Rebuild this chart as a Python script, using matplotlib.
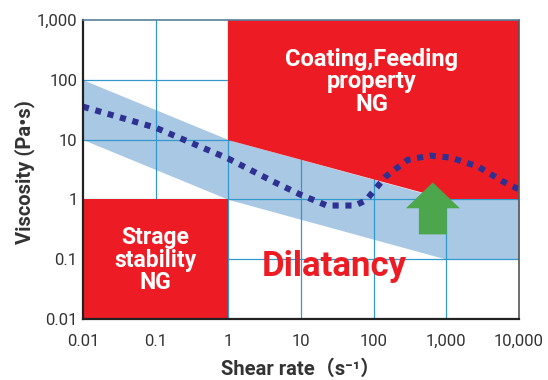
import matplotlib

matplotlib.use("Agg")
import matplotlib.pyplot as plt  # noqa: E402

FONTS = ["Roboto", "Noto Sans CJK JP", "DejaVu Sans"]
plt.rcParams["font.family"] = FONTS

# axis ranges / ticks
x_ticks = [0.01, 0.1, 1, 10, 100, 1000, 10000]
x_labels = ["0.01", "0.1", "1", "10", "100", "1,000", "10,000"]
y_ticks = [0.01, 0.1, 1, 10, 100, 1000]
y_labels = ["0.01", "0.1", "1", "10", "100", "1,000"]

# acceptable viscosity band (upper / lower edge)
band_x = [0.01, 1, 1000, 10000]
band_upper = [100, 10, 1, 1]
band_lower = [10, 1, 0.1, 0.1]

# measured curve (dilatant behaviour)
curve_x = [0.01, 0.1, 1, 4.1, 9.7, 22.7, 55, 78, 147, 295, 593, 1150, 2710, 5980, 10000]
curve_y = [35.5, 15.8, 4.8, 2.0, 1.21, 0.79, 0.79, 0.96, 2.42, 4.6, 5.4, 5.0, 3.55, 2.0, 1.47]

# NG zones
coating_x = [1, 1, 10000, 10000, 1000]
coating_y = [10, 1000, 1000, 1, 1]
storage_x = [0.01, 0.01, 1, 1]
storage_y = [0.01, 1, 1, 0.01]

# green arrow outline
arrow_x = [419, 419, 277, 652, 1535, 1016, 1016]
arrow_y = [0.26, 0.71, 0.71, 1.92, 0.71, 0.71, 0.26]

RED = "#ed1c24"
BAND = "#a9c8e4"
GRID = "#3399cc"
DOTS = "#2e3192"
GREEN = "#4ca64c"
TXT = "#333333"

fig = plt.figure(figsize=(5.48, 3.8), dpi=100)
ax = fig.add_axes([83 / 548, 1 - 319 / 380, 436 / 548, 299 / 380])
ax.set_xscale("log")
ax.set_yscale("log")
ax.set_xlim(0.01, 10000)
ax.set_ylim(0.01, 1000)

ax.fill_between(band_x, band_lower, band_upper, color=BAND, lw=0, zorder=1)
for v in x_ticks[1:-1]:
    ax.axvline(v, color=GRID, lw=0.9, zorder=2)
for v in y_ticks[1:-1]:
    ax.axhline(v, color=GRID, lw=0.9, zorder=2)
ax.fill(coating_x, coating_y, color=RED, lw=0, zorder=3)
ax.fill(storage_x, storage_y, color=RED, lw=0, zorder=3)

ax.plot(curve_x, curve_y, color=DOTS, lw=4.4, linestyle=(0, (1, 1.1)),
        dash_capstyle="butt", zorder=5)
ax.fill(arrow_x, arrow_y, color=GREEN, lw=0, zorder=4)

ax.text(94, 93, "Coating,Feeding\nproperty\nNG", color="white", fontsize=17,
        fontweight="bold", ha="center", va="center", linespacing=0.98, zorder=6)
ax.text(0.1, 0.096, "Strage\nstability\nNG", color="white", fontsize=16.5,
        fontweight="bold", ha="center", va="center", linespacing=0.98, zorder=6)
ax.text(29, 0.052, "Dilatancy", color=RED, fontsize=25, fontweight="bold",
        ha="center", va="baseline", zorder=6)

ax.set_xticks(x_ticks)
ax.set_xticklabels(x_labels)
ax.set_yticks(y_ticks)
ax.set_yticklabels(y_labels)
ax.minorticks_off()
ax.tick_params(length=0, labelsize=12, labelcolor=TXT)
ax.tick_params(axis="x", pad=11)
ax.tick_params(axis="y", pad=4)

fig.text(301 / 548, 1 - 369 / 380, "Shear rate（s⁻¹）", fontsize=14.5,
         fontweight="bold", color=TXT, ha="center", va="center")
fig.text(25 / 548, 1 - 172 / 380, "Viscosity (Pa•s)", fontsize=14.5,
         fontweight="bold", color=TXT, ha="center", va="center", rotation=90)

ax.spines["left"].set_color("#222222")
ax.spines["bottom"].set_color("#222222")
ax.spines["left"].set_linewidth(1.6)
ax.spines["bottom"].set_linewidth(1.6)
ax.spines["top"].set_color("#5a7f98")
ax.spines["right"].set_color("#555555")
ax.spines["top"].set_linewidth(1.2)
ax.spines["right"].set_linewidth(1.2)
for s in ax.spines.values():
    s.set_zorder(7)

fig.savefig("out.png", dpi=100)
